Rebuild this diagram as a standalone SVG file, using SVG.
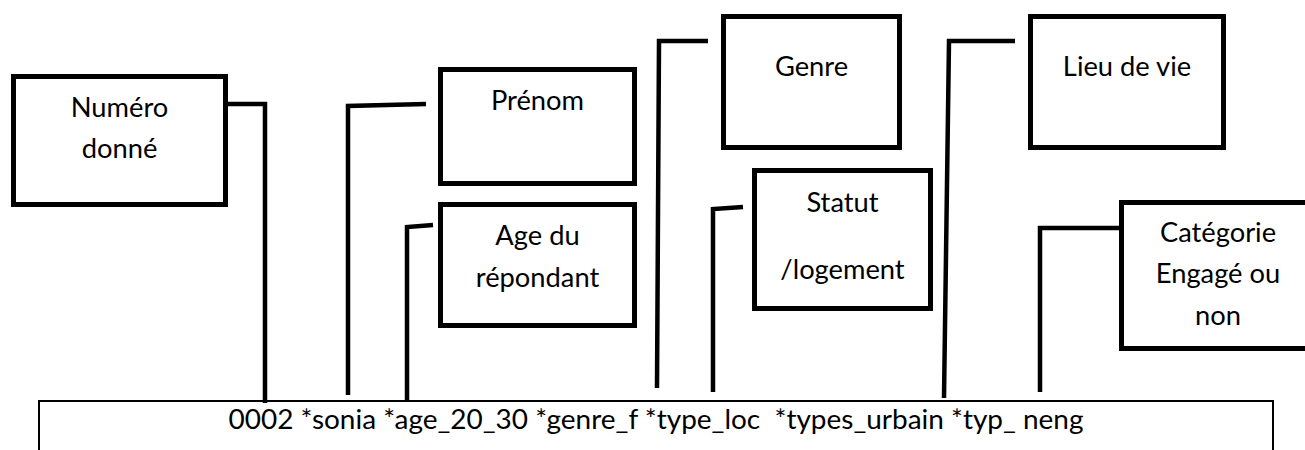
<svg xmlns="http://www.w3.org/2000/svg" width="1305" height="450" viewBox="0 0 1305 450">
<style>
.box{fill:#fff;stroke:#000;stroke-width:5}
.lbl{font-family:Lato,"Liberation Sans",sans-serif;font-size:27.3px;fill:#000;text-anchor:middle}
.con{fill:none;stroke:#000;stroke-width:4.5;stroke-linejoin:miter}
</style>
<rect width="1305" height="450" fill="#fff"/>
<g id="record">
<path d="M39,452 V401 H1273 V452" fill="none" stroke="#000" stroke-width="2"/>
<text class="lbl" x="656" y="429" textLength="855" lengthAdjust="spacingAndGlyphs" xml:space="preserve">0002 *sonia *age_20_30 *genre_f *type_loc  *types_urbain *typ_ neng</text>
</g>
<g id="connectors">
<path class="con" d="M228,104 H265 V403"/>
<path class="con" d="M348,395 V106 L426,104"/>
<path class="con" d="M407,401 V227 L433,225"/>
<path class="con" d="M657,388 L659,41 H708"/>
<path class="con" d="M713,392 V209 L743,207"/>
<path class="con" d="M944,398 L949,41 H1015"/>
<path class="con" d="M1040,392 V228 H1120"/>
</g>
<g id="numero">
<rect class="box" x="13.5" y="76.5" width="212" height="128"/>
<text class="lbl" x="119.5" y="117">Numéro</text>
<text class="lbl" x="119.5" y="158">donné</text>
</g>
<g id="prenom">
<rect class="box" x="440.5" y="69.5" width="194" height="114"/>
<text class="lbl" x="537.5" y="110">Prénom</text>
</g>
<g id="age">
<rect class="box" x="440.5" y="204.5" width="194" height="121"/>
<text class="lbl" x="537.5" y="245">Age du</text>
<text class="lbl" x="537.5" y="287">répondant</text>
</g>
<g id="genre">
<rect class="box" x="723.5" y="16.5" width="176" height="131"/>
<text class="lbl" x="811.5" y="76">Genre</text>
</g>
<g id="statut">
<rect class="box" x="754.5" y="170.5" width="176" height="138"/>
<text class="lbl" x="842.5" y="212">Statut</text>
<text class="lbl" x="842.5" y="279">/logement</text>
</g>
<g id="lieu">
<rect class="box" x="1030.5" y="16.5" width="193" height="131"/>
<text class="lbl" x="1127" y="76">Lieu de vie</text>
</g>
<g id="categorie">
<rect class="box" x="1121.5" y="202.5" width="200" height="146"/>
<text class="lbl" x="1218" y="242">Catégorie</text>
<text class="lbl" x="1218" y="283">Engagé ou</text>
<text class="lbl" x="1218" y="325">non</text>
</g>
</svg>
